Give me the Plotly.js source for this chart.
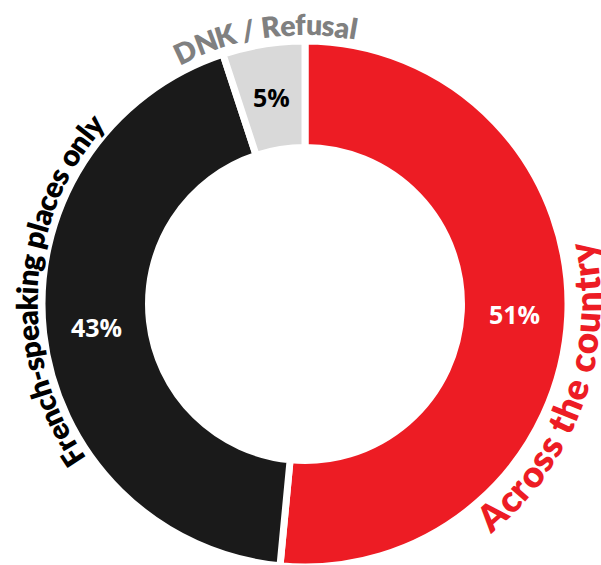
<!DOCTYPE html>
<html>
<head>
<meta charset="utf-8">
<script src="https://cdn.plot.ly/plotly-3.0.1.min.js"></script>
<style>html,body{margin:0;padding:0;background:#fff;overflow:hidden;}#chart{width:601px;height:567px;}</style>
</head>
<body>
<div id="chart"></div>
<script>
// ---- data ----
const categories = ['Across the country', 'French-speaking places only', 'DNK / Refusal'];
const values = [51, 43, 5];
const valueLabels = ['51%', '43%', '5%'];
const sliceColors = ['#ED1C24', '#1A1A1A', '#D9D9D9'];
const labelColors = ['#ED1C24', '#000000', '#808080'];
const pctColors = ['#FFFFFF', '#FFFFFF', '#000000'];

// ---- layout geometry ----
const W = 601, H = 567;
const margin = {l: 42, r: 33, t: 41, b: 0, pad: 0};
const plotW = W - margin.l - margin.r, plotH = H - margin.t - margin.b;
const cx = margin.l + plotW / 2, cy = margin.t + plotH / 2;
const R = Math.min(plotW, plotH) / 2;
const HOLE = 0.595;
const LABEL_FONT = 'Lato';
const LABEL_WEIGHT = 800;
const PCT_FONT = 'Open Sans';

// curved outer label specs: centre angle (deg, math), span (deg), radius px, direction
const curveSpecs = [
  {thetaC: -19.4, span: 63.5, r: 282, dir: 'ccw'},
  {thetaC: 176.5, span: 77, r: 279, dir: 'cw'},
  {thetaC: 98.4, span: 38.2, r: 280, dir: 'cw'}
];

const canvas = document.createElement('canvas');
const ctx = canvas.getContext('2d');
ctx.font = LABEL_WEIGHT + " 100px '" + LABEL_FONT + "'";

const annotations = [];
categories.forEach((txt, k) => {
  const sp = curveSpecs[k];
  const chars = Array.from(txt);
  const w100 = chars.map(c => ctx.measureText(c).width);
  const total100 = w100.reduce((a, b) => a + b, 0);
  const arcLen = sp.span * Math.PI / 180 * sp.r;
  const size = 100 * arcLen / total100;
  const widths = w100.map(w => w * size / 100);
  const tStart = sp.dir === 'cw' ? sp.thetaC + sp.span / 2 : sp.thetaC - sp.span / 2;
  let s = 0;
  chars.forEach((c, i) => {
    const mid = s + widths[i] / 2;
    s += widths[i];
    if (c === ' ') return;
    const dTh = mid / sp.r * 180 / Math.PI;
    const th = sp.dir === 'cw' ? tStart - dTh : tStart + dTh;
    const rad = th * Math.PI / 180;
    const px = cx + sp.r * Math.cos(rad);
    const py = cy - sp.r * Math.sin(rad);
    const ang = sp.dir === 'cw' ? 90 - th : -(th + 90);
    annotations.push({
      xref: 'paper', yref: 'paper',
      x: (px - margin.l) / plotW, y: 1 - (py - margin.t) / plotH,
      xanchor: 'center', yanchor: 'middle',
      text: c, showarrow: false, textangle: ang,
      borderpad: 0,
      font: {family: LABEL_FONT, size: size, color: labelColors[k], weight: LABEL_WEIGHT}
    });
  });
});

// small slices: put the value label at the slice's mid-angle / mid-ring
const total = values.reduce((a, b) => a + b, 0);
const sliceText = valueLabels.slice();
let cum = 0;
values.forEach((v, i) => {
  const a0 = cum / total * 360; cum += v;
  const a1 = cum / total * 360;
  if (v / total < 0.1) {
    sliceText[i] = '';
    const th = (90 - (a0 + a1) / 2) * Math.PI / 180;
    const rm = R * (1 + HOLE) / 2;
    const px = cx + rm * Math.cos(th), py = cy - rm * Math.sin(th);
    annotations.push({
      xref: 'paper', yref: 'paper',
      x: (px - margin.l) / plotW, y: 1 - (py - margin.t) / plotH,
      xanchor: 'center', yanchor: 'middle',
      text: valueLabels[i], showarrow: false, borderpad: 0,
      font: {family: PCT_FONT, size: 25, color: pctColors[i], weight: 'bold'}
    });
  }
});

const trace = {
  type: 'pie',
  labels: categories,
  values: values,
  text: sliceText,
  textinfo: 'text',
  textposition: 'inside',
  insidetextorientation: 'horizontal',
  textfont: {family: PCT_FONT, size: 25, color: pctColors, weight: 'bold'},
  sort: false,
  direction: 'clockwise',
  rotation: 0,
  hole: HOLE,
  marker: {colors: sliceColors, line: {color: '#FFFFFF', width: 7}},
  hoverinfo: 'none',
  showlegend: false
};

Plotly.newPlot('chart', [trace], {
  width: W, height: H,
  margin: margin,
  paper_bgcolor: '#FFFFFF',
  plot_bgcolor: '#FFFFFF',
  showlegend: false,
  annotations: annotations
}, {displayModeBar: false, staticPlot: true});
</script>
</body>
</html>
